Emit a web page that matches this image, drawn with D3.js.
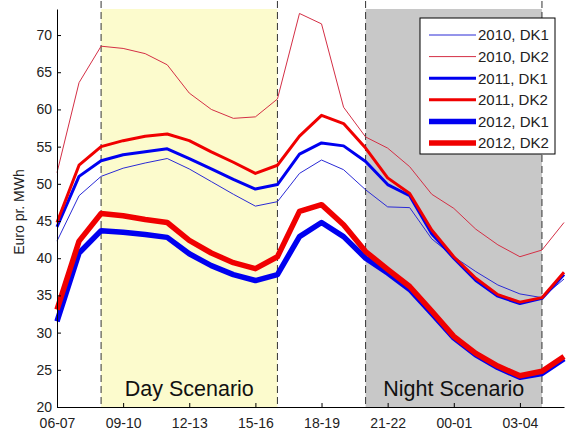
<!DOCTYPE html>
<html>
<head>
<meta charset="utf-8">
<script src="https://d3js.org/d3.v7.min.js"></script>
<style>
body { margin: 0; background: #fff; }
text { font-family: Arial, "Liberation Sans", sans-serif; fill: #222; }
</style>
</head>
<body>
<div id="grafico"></div>
<script>
// Datos: precio por hora (Euro pr. MWh)
var horas = ["06-07", "07-08", "08-09", "09-10", "10-11", "11-12", "12-13", "13-14",
    "14-15", "15-16", "16-17", "17-18", "18-19", "19-20", "20-21", "21-22",
    "22-23", "23-00", "00-01", "01-02", "02-03", "03-04", "04-05", "05-06"];

var dk1_2010 = [42.3, 48.4, 51.0, 52.1, 52.8, 53.4, 52.0, 50.3, 48.6, 47.0, 47.6, 51.4,
    53.2, 51.9, 49.2, 46.9, 46.8, 42.6, 40.2, 38.2, 36.4, 35.2, 34.7, 37.2];
var dk2_2010 = [51.5, 63.6, 68.5, 68.2, 67.5, 66.0, 62.2, 60.0, 58.8, 59.0, 61.4, 72.9,
    71.5, 60.3, 56.3, 54.8, 52.3, 48.6, 46.7, 43.9, 41.8, 40.2, 41.1, 44.8];
var dk1_2011 = [44.2, 51.0, 53.1, 53.9, 54.3, 54.7, 53.4, 52.0, 50.6, 49.3, 49.9, 54.0,
    55.5, 55.1, 53.0, 49.9, 48.4, 43.3, 40.0, 37.0, 34.9, 33.9, 34.6, 37.8];
var dk2_2011 = [44.8, 52.5, 55.0, 55.8, 56.4, 56.7, 55.8, 54.3, 52.9, 51.4, 52.5, 56.4,
    59.2, 58.1, 54.8, 50.8, 48.7, 43.8, 40.2, 37.3, 35.1, 34.1, 34.7, 38.1];
var dk1_2012 = [31.5, 40.7, 43.7, 43.5, 43.2, 42.8, 40.6, 39.0, 37.8, 37.0, 37.8, 42.9,
    44.8, 42.9, 40.0, 38.0, 35.8, 32.6, 29.3, 27.0, 25.3, 24.0, 24.5, 26.5];
var dk2_2012 = [33.1, 42.3, 46.0, 45.7, 45.2, 44.8, 42.4, 40.7, 39.4, 38.6, 40.2, 46.3,
    47.2, 44.5, 40.9, 38.5, 36.2, 32.9, 29.5, 27.2, 25.5, 24.2, 24.8, 26.8];

var series = [
    { etiqueta: "2010, DK1", valores: dk1_2010, color: "#2a2ad6", grosor: 1 },
    { etiqueta: "2010, DK2", valores: dk2_2010, color: "#d42f45", grosor: 1 },
    { etiqueta: "2011, DK1", valores: dk1_2011, color: "#0000f0", grosor: 3 },
    { etiqueta: "2011, DK2", valores: dk2_2011, color: "#f00000", grosor: 3 },
    { etiqueta: "2012, DK1", valores: dk1_2012, color: "#0000f0", grosor: 5.5 },
    { etiqueta: "2012, DK2", valores: dk2_2012, color: "#f00000", grosor: 5.5 }
];

// Escenarios (indices de hora)
var escenarios = [
    { nombre: "Day Scenario", desde: 2, hasta: 10, color: "#fcfbcd" },
    { nombre: "Night Scenario", desde: 14, hasta: 22, color: "#c8c8c8" }
];

var yTicks = [20, 25, 30, 35, 40, 45, 50, 55, 60, 65, 70];
var xTicks = [0, 3, 6, 9, 12, 15, 18, 21];

var width = 566;
var height = 430;

var svg = d3.select("#grafico")
    .append("svg")
    .attr("width", width)
    .attr("height", height);

var x = d3.scaleLinear().domain([0, 23]).range([57, 564]);
var y = d3.scaleLinear().domain([20, 73.5]).range([407, 9]);

// Zonas sombreadas
svg.selectAll("rect.zona")
    .data(escenarios)
    .enter()
    .append("rect")
    .attr("class", "zona")
    .attr("x", function(d) { return x(d.desde); })
    .attr("y", y(73.5))
    .attr("width", function(d) { return x(d.hasta) - x(d.desde); })
    .attr("height", y(20) - y(73.5))
    .attr("fill", function(d) { return d.color; });

// Lineas discontinuas
var limites = [];
escenarios.forEach(function(e) { limites.push(e.desde, e.hasta); });
svg.selectAll("line.limite")
    .data(limites)
    .enter()
    .append("line")
    .attr("class", "limite")
    .attr("x1", function(d) { return x(d); })
    .attr("x2", function(d) { return x(d); })
    .attr("y1", 1)
    .attr("y2", y(20))
    .attr("stroke", "#333")
    .attr("stroke-width", 1)
    .attr("stroke-dasharray", "7,4");

// Textos de escenario
svg.selectAll("text.escenario")
    .data(escenarios)
    .enter()
    .append("text")
    .attr("class", "escenario")
    .attr("x", function(d) { return (x(d.desde) + x(d.hasta)) / 2; })
    .attr("y", 396)
    .attr("text-anchor", "middle")
    .style("font-size", "21.5px")
    .style("fill", "#111")
    .text(function(d) { return d.nombre; });

// Lineas de datos
var linea = d3.line()
    .x(function(d, i) { return x(i); })
    .y(function(d) { return y(d); });

svg.selectAll("path.serie")
    .data(series)
    .enter()
    .append("path")
    .attr("class", "serie")
    .attr("d", function(d) { return linea(d.valores); })
    .attr("fill", "none")
    .attr("stroke", function(d) { return d.color; })
    .attr("stroke-width", function(d) { return d.grosor; })
    .attr("stroke-linejoin", "round");

// Ejes
var ejeY = svg.append("g")
    .attr("transform", "translate(" + x(0) + ",0)")
    .call(d3.axisLeft(y).tickValues(yTicks).tickSizeInner(-4).tickSizeOuter(0).tickPadding(5));

var ejeX = svg.append("g")
    .attr("transform", "translate(0," + y(20) + ")")
    .call(d3.axisBottom(x).tickValues(xTicks)
        .tickFormat(function(i) { return horas[i]; })
        .tickSizeInner(-4).tickSizeOuter(0).tickPadding(11));

[ejeY, ejeX].forEach(function(g) {
    g.selectAll("text").style("font-size", "14px").style("font-family", "Arial, 'Liberation Sans', sans-serif").attr("fill", "#222");
    g.selectAll("line").attr("stroke", "#000");
    g.select(".domain").attr("stroke", "#000");
});

// Etiqueta eje Y
svg.append("text")
    .attr("transform", "translate(24,212) rotate(-90)")
    .attr("text-anchor", "middle")
    .style("font-size", "14px")
    .text("Euro pr. MWh");

// Leyenda
var leyenda = svg.append("g")
    .attr("transform", "translate(420,18)");

leyenda.append("rect")
    .attr("width", 135)
    .attr("height", 136)
    .attr("fill", "#fff")
    .attr("stroke", "#000")
    .attr("stroke-width", 1);

var items = leyenda.selectAll("g.item")
    .data(series)
    .enter()
    .append("g")
    .attr("class", "item")
    .attr("transform", function(d, i) { return "translate(0," + (17 + i * 21.6) + ")"; });

items.append("line")
    .attr("x1", 9)
    .attr("x2", 56)
    .attr("stroke", function(d) { return d.color; })
    .attr("stroke-width", function(d) { return d.grosor; });

items.append("text")
    .attr("x", 58)
    .attr("dy", "0.36em")
    .style("font-size", "15px")
    .text(function(d) { return d.etiqueta; });
</script>
</body>
</html>
